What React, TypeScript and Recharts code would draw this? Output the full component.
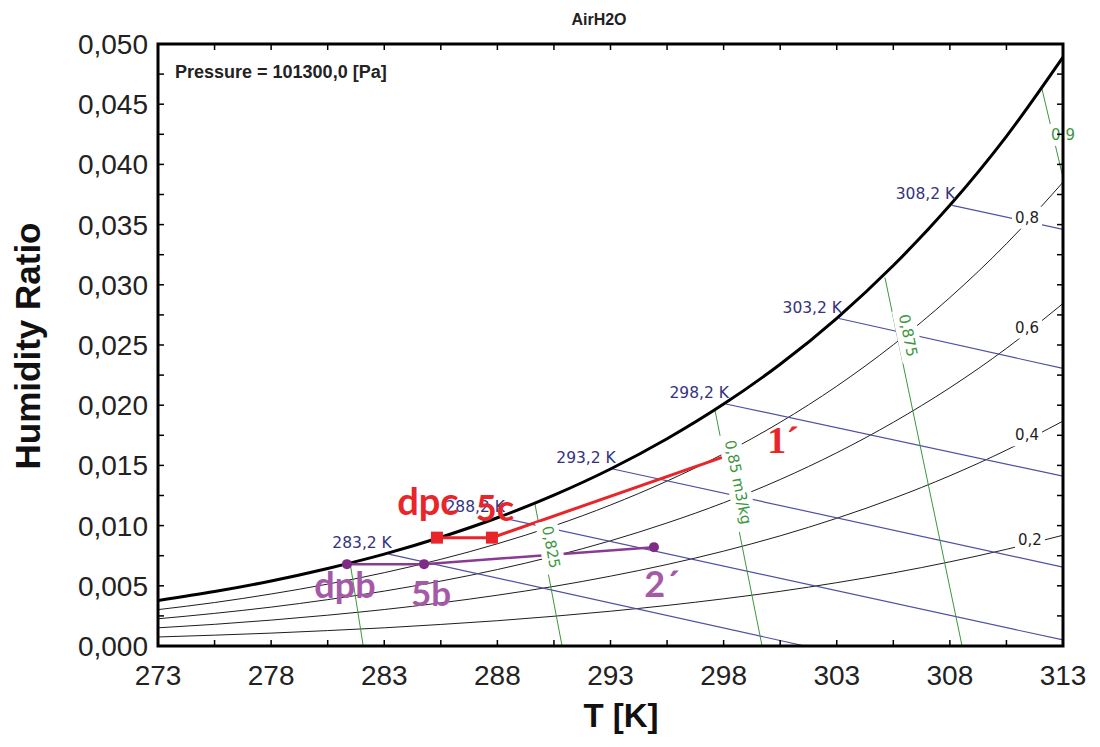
import React from 'react';
import { ComposedChart, Line, XAxis, YAxis, ReferenceDot } from 'recharts';

// temperature grid for the curved lines [K]
const T_GRID = [273, 275.5, 278, 280.5, 283, 285.5, 288, 290.5, 293, 295.5, 298, 300.5, 303, 305.5, 308, 310.5, 313];

// humidity ratio on saturation and on the relative humidity curves
const W_SAT = [0.00378, 0.00452, 0.0054, 0.00644, 0.00763, 0.00903, 0.01065, 0.01253, 0.0147, 0.01721, 0.02009, 0.0234, 0.02722, 0.0316, 0.0366, 0.04233, 0.04891];
const W_RH80 = [0.00302, 0.00361, 0.00432, 0.00514, 0.00609, 0.0072, 0.00849, 0.00998, 0.01171, 0.0137, 0.01597, 0.01858, 0.02158, 0.02502, 0.02894, 0.03341, 0.03852];
const W_RH60 = [0.00226, 0.00271, 0.00323, 0.00385, 0.00456, 0.00539, 0.00635, 0.00746, 0.00874, 0.01022, 0.0119, 0.01383, 0.01605, 0.01858, 0.02145, 0.02472, 0.02845];
const W_RH40 = [0.00151, 0.0018, 0.00215, 0.00256, 0.00303, 0.00358, 0.00422, 0.00495, 0.0058, 0.00677, 0.00788, 0.00915, 0.01061, 0.01226, 0.01414, 0.01627, 0.01868];
const W_RH20 = [0.00075, 0.0009, 0.00107, 0.00128, 0.00151, 0.00179, 0.0021, 0.00247, 0.00289, 0.00337, 0.00392, 0.00454, 0.00526, 0.00607, 0.00699, 0.00803, 0.0092];

const RH_NAMES = ['0,2', '0,4', '0,6', '0,8'];
const RH_LABEL_T = [311.54, 311.41, 311.41, 311.41];
const RH_LABEL_W = [0.00879, 0.0175, 0.02645, 0.03557];

// wet bulb lines (start on saturation, end at axis edge)
const WB_NAMES = ['283,2 K', '288,2 K', '293,2 K', '298,2 K', '303,2 K', '308,2 K'];
const WB_T0 = [283.2, 288.2, 293.1, 298.1, 303.1, 308.1];
const WB_W0 = [0.00763, 0.01065, 0.0147, 0.0201, 0.0272, 0.0366];
const WB_T1 = [301.6, 313, 313, 313, 313, 313];
const WB_W1 = [0, 0.0005, 0.00655, 0.0141, 0.02305, 0.0346];

// specific volume lines
const V_NAMES = ['', '0,825', '0,85 m3/kg', '0,875', '0,9'];
const V_T0 = [281.5, 289.66, 297.62, 305.13, 312.07];
const V_W0 = [0.0068, 0.0118, 0.01957, 0.0306, 0.04627];
const V_T1 = [282.07, 290.86, 299.7, 308.54, 313];
const V_W1 = [0, 0, 0, 0, 0.0389];
const V_LABEL_T = [0, 290.37, 298.64, 306.15, 313];
const V_LABEL_W = [0, 0.00821, 0.0136, 0.02579, 0.04245];

// process b (purple) and c (red)
const B_NAMES = ['dpb', '5b', '2´'];
const B_T = [281.35, 284.76, 294.92];
const B_W = [0.0068, 0.0068, 0.00821];
const C_NAMES = ['dpc', '5c', '1´'];
const C_T = [285.33, 287.76, 297.93];
const C_W = [0.009, 0.009, 0.01567];

const X_TICKS = [273, 275.5, 278, 280.5, 283, 285.5, 288, 290.5, 293, 295.5, 298, 300.5, 303, 305.5, 308, 310.5, 313];
const X_LABELS = [273, 278, 283, 288, 293, 298, 303, 308, 313];
const Y_TICKS = [0, 0.0025, 0.005, 0.0075, 0.01, 0.0125, 0.015, 0.0175, 0.02, 0.0225, 0.025, 0.0275, 0.03, 0.0325, 0.035, 0.0375, 0.04, 0.0425, 0.045, 0.0475, 0.05];
const Y_LABELS = [0, 0.005, 0.01, 0.015, 0.02, 0.025, 0.03, 0.035, 0.04, 0.045, 0.05];

const BLUE = '#5050a2';
const GREEN = '#3c963c';
const RED = '#e8262a';
const PURPLE = '#7e2a86';
const PURPLE_TXT = '#a55aa8';
const SMALL_FONT = '"DejaVu Sans", sans-serif';

// label offsets (px) and font sizes for the process points
const B_OFF = [{ dx: -2, dy: 34 }, { dx: 7, dy: 42 }, { dx: 8, dy: 50 }];
const C_OFF = [{ dx: -9, dy: -23 }, { dx: 3, dy: -17 }, { dx: 61, dy: -4 }];
const B_SIZE = [36, 35, 36];
const C_SIZE = [38, 36, 38];

const isLabel = (v: number, list: number[]) => list.some((l) => Math.abs(l - v) < 1e-9);

const BottomTick = (p: any) => (
    <g>
        <line x1={p.x} x2={p.x} y1={p.y} y2={p.y - 6} stroke="#000" strokeWidth={1.5} />
        {isLabel(p.payload.value, X_LABELS) && (
            <text x={p.x} y={p.y + 39} textAnchor="middle" fontSize={28} fill="#222">{p.payload.value}</text>
        )}
    </g>
);
const TopTick = (p: any) => <line x1={p.x} x2={p.x} y1={p.y} y2={p.y + 6} stroke="#000" strokeWidth={1.5} />;
const LeftTick = (p: any) => (
    <g>
        <line x1={p.x} x2={p.x + 6} y1={p.y} y2={p.y} stroke="#000" strokeWidth={1.5} />
        {isLabel(p.payload.value, Y_LABELS) && (
            <text x={p.x - 10} y={p.y + 10} textAnchor="end" fontSize={28} fill="#222">
                {p.payload.value.toFixed(3).replace('.', ',')}
            </text>
        )}
    </g>
);
const RightTick = (p: any) => <line x1={p.x} x2={p.x - 6} y1={p.y} y2={p.y} stroke="#000" strokeWidth={1.5} />;

const BoxLabel = ({ cx, cy, text, color, angle, w }: any) => (
    <g transform={`translate(${cx},${cy}) rotate(${angle})`}>
        <rect x={-w / 2} y={-11} width={w} height={22} fill="#fff" />
        <text x={0} y={5} textAnchor="middle" fontSize={15} fontFamily={SMALL_FONT} fill={color}>{text}</text>
    </g>
);

const toPts = (ts: number[], ws: number[]) => ts.map((t, i) => ({ t, w: ws[i] }));

export default function App() {
    const rhSets = [W_RH20, W_RH40, W_RH60, W_RH80];
    const V_ANGLES = [79, 79, 78.7, 78.2, 0];

    const procDot = (names: string[], offs: any[], sizes: number[], color: string, txtColor: string, marker: string[], font: string[]) =>
        (p: any) => {
            const { cx, cy, index } = p;
            const o = offs[index];
            return (
                <g key={`d-${names[index]}`}>
                    {marker[index] === 'square' && <rect x={cx - 6} y={cy - 6} width={12} height={12} fill={color} />}
                    {marker[index] === 'circle' && <circle cx={cx} cy={cy} r={5} fill={color} />}
                    <text
                        x={cx + o.dx}
                        y={cy + o.dy}
                        textAnchor="middle"
                        fontSize={sizes[index]}
                        fontWeight="bold"
                        fontFamily={font[index]}
                        fill={txtColor}
                    >
                        {names[index]}
                    </text>
                </g>
            );
        };

    return (
        <div style={{ position: 'absolute', left: 0, top: 0, width: 1100, height: 747, background: '#fff', fontFamily: '"Liberation Sans", Arial, sans-serif' }}>
            <ComposedChart width={1100} height={747} margin={{ top: 43, right: 36, bottom: 0, left: 0 }}>
                <XAxis dataKey="t" type="number" domain={[273, 313]} ticks={X_TICKS} interval={0} height={101}
                    axisLine={false} tickLine={false} tickSize={0} tickMargin={0} tick={BottomTick} allowDataOverflow />
                <XAxis xAxisId="top" orientation="top" dataKey="t" type="number" domain={[273, 313]} ticks={X_TICKS} interval={0} height={1}
                    axisLine={false} tickLine={false} tickSize={0} tickMargin={0} tick={TopTick} allowDataOverflow />
                <YAxis type="number" domain={[0, 0.05]} ticks={Y_TICKS} interval={0} width={158}
                    axisLine={false} tickLine={false} tickSize={0} tickMargin={0} tick={LeftTick} allowDataOverflow />
                <YAxis yAxisId="right" orientation="right" type="number" domain={[0, 0.05]} ticks={Y_TICKS} interval={0} width={1}
                    axisLine={false} tickLine={false} tickSize={0} tickMargin={0} tick={RightTick} allowDataOverflow />

                {rhSets.map((ws, i) => (
                    <Line key={`rh${i}`} data={toPts(T_GRID, ws)} dataKey="w" type="monotone" stroke="#1e1e1e" strokeWidth={1}
                        dot={false} activeDot={false} isAnimationActive={false} />
                ))}
                {WB_NAMES.map((n, i) => (
                    <Line key={`wb${i}`} data={toPts([WB_T0[i], WB_T1[i]], [WB_W0[i], WB_W1[i]])} dataKey="w" type="linear"
                        stroke={BLUE} strokeWidth={1.2} dot={false} activeDot={false} isAnimationActive={false} />
                ))}
                {V_NAMES.map((n, i) => (
                    <Line key={`v${i}`} data={toPts([V_T0[i], V_T1[i]], [V_W0[i], V_W1[i]])} dataKey="w" type="linear"
                        stroke={GREEN} strokeWidth={1} dot={false} activeDot={false} isAnimationActive={false} />
                ))}
                <Line data={toPts(T_GRID, W_SAT)} dataKey="w" type="monotone" stroke="#000" strokeWidth={3}
                    dot={false} activeDot={false} isAnimationActive={false} />

                {RH_NAMES.map((n, i) => (
                    <ReferenceDot key={`rhl${i}`} x={RH_LABEL_T[i]} y={RH_LABEL_W[i]} r={0} ifOverflow="visible"
                        shape={(p: any) => <BoxLabel cx={p.cx} cy={p.cy} text={n} color="#1e1e1e" angle={0} w={30} />} />
                ))}
                {V_NAMES.map((n, i) => n === '' ? null : (
                    <ReferenceDot key={`vl${i}`} x={V_LABEL_T[i]} y={V_LABEL_W[i]} r={0} ifOverflow="visible"
                        shape={(p: any) => <BoxLabel cx={p.cx} cy={p.cy} text={n} color={GREEN} angle={V_ANGLES[i]} w={n.length * 9 + 8} />} />
                ))}
                {WB_NAMES.map((n, i) => (
                    <ReferenceDot key={`wbl${i}`} x={WB_T0[i]} y={WB_W0[i]} r={0} ifOverflow="visible"
                        shape={(p: any) => (
                            <text x={p.cx + 3} y={p.cy - 6} textAnchor="end" fontSize={15.5} fontFamily={SMALL_FONT} fill="#333380">{n}</text>
                        )} />
                ))}

                <Line data={toPts(B_T, B_W)} dataKey="w" type="linear" stroke="#8a3a92" strokeWidth={2.5} activeDot={false}
                    dot={procDot(B_NAMES, B_OFF, B_SIZE, PURPLE, PURPLE_TXT, ['circle', 'circle', 'circle'], ['Lato, sans-serif', 'Lato, sans-serif', 'Lato, sans-serif'])}
                    isAnimationActive={false} />
                <Line data={toPts(C_T, C_W)} dataKey="w" type="linear" stroke={RED} strokeWidth={3} activeDot={false}
                    dot={procDot(C_NAMES, C_OFF, C_SIZE, RED, RED, ['square', 'square', 'none'], ['Lato, sans-serif', 'Lato, sans-serif', '"Liberation Serif", serif'])}
                    isAnimationActive={false} />
            </ComposedChart>
            <svg width={1100} height={747} style={{ position: 'absolute', left: 0, top: 0, pointerEvents: 'none' }}>
                <rect x={158} y={44} width={905} height={602} fill="none" stroke="#000" strokeWidth={3} />
                <text x={599} y={25} textAnchor="middle" fontSize={16} fontWeight="bold" fill="#222">AirH2O</text>
                <text x={175} y={78} fontSize={18} fontWeight="bold" fill="#222">Pressure = 101300,0 [Pa]</text>
                <text x={621} y={727} textAnchor="middle" fontSize={33} fontWeight="bold" fill="#111">T [K]</text>
                <text transform="translate(40,346) rotate(-90)" textAnchor="middle" fontSize={35} fontWeight="bold" fill="#111">Humidity Ratio</text>
            </svg>
        </div>
    );
}
